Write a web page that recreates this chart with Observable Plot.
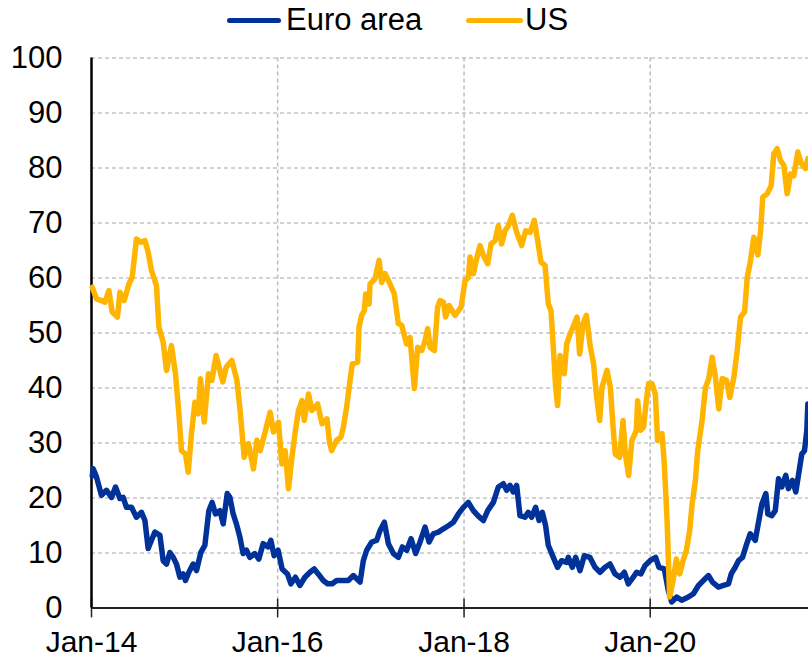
<!DOCTYPE html>
<html>
<head>
<meta charset="utf-8">
<script src="https://cdn.jsdelivr.net/npm/d3@7"></script>
<script src="https://cdn.jsdelivr.net/npm/@observablehq/plot@0.6"></script>
<style>
  html, body { margin: 0; padding: 0; background: #fff; }
  body { width: 808px; height: 659px; overflow: hidden; font-family: "Liberation Sans", Arial, sans-serif; }
  #legend { position: relative; height: 42px; width: 808px; }
  .sw { position: absolute; top: 18px; height: 5px; border-radius: 3px; }
  .lt { position: absolute; top: 3px; font-size: 31px; line-height: 34px; color: #000; white-space: nowrap; }
</style>
</head>
<body>
<div id="legend">
  <div class="sw" style="left:227px;width:54px;background:#003299"></div>
  <div class="lt" style="left:286px">Euro area</div>
  <div class="sw" style="left:466px;width:57px;background:#FFB400"></div>
  <div class="lt" style="left:525px">US</div>
</div>
<div id="chart"></div>
<script>
// Decimal-year time stamps and values
const euroTime = [2014.008,2014.018,2014.054,2014.107,2014.161,2014.215,2014.258,2014.305,2014.340,2014.376,2014.430,2014.483,2014.537,2014.574,2014.609,2014.644,2014.681,2014.735,2014.770,2014.806,2014.842,2014.878,2014.913,2014.950,2014.985,2015.010,2015.046,2015.092,2015.128,2015.175,2015.218,2015.261,2015.296,2015.332,2015.379,2015.415,2015.458,2015.487,2015.522,2015.557,2015.594,2015.629,2015.665,2015.701,2015.755,2015.798,2015.844,2015.898,2015.927,2015.962,2016.005,2016.048,2016.105,2016.142,2016.191,2016.238,2016.292,2016.346,2016.392,2016.435,2016.489,2016.535,2016.585,2016.632,2016.685,2016.757,2016.811,2016.883,2016.918,2016.954,2017.008,2017.061,2017.098,2017.144,2017.187,2017.241,2017.294,2017.337,2017.384,2017.431,2017.480,2017.527,2017.581,2017.624,2017.670,2017.724,2017.778,2017.835,2017.885,2017.939,2017.993,2018.046,2018.100,2018.154,2018.207,2018.254,2018.315,2018.368,2018.422,2018.458,2018.494,2018.529,2018.565,2018.601,2018.655,2018.690,2018.726,2018.769,2018.806,2018.841,2018.876,2018.905,2018.959,2019.005,2019.048,2019.102,2019.120,2019.163,2019.199,2019.246,2019.292,2019.353,2019.407,2019.461,2019.515,2019.568,2019.622,2019.676,2019.722,2019.765,2019.818,2019.854,2019.901,2019.944,2019.998,2020.058,2020.094,2020.151,2020.194,2020.230,2020.284,2020.337,2020.409,2020.463,2020.517,2020.570,2020.624,2020.667,2020.731,2020.785,2020.839,2020.868,2020.911,2020.946,2020.989,2021.035,2021.072,2021.126,2021.161,2021.197,2021.240,2021.261,2021.304,2021.341,2021.376,2021.411,2021.454,2021.483,2021.526,2021.562,2021.598,2021.626,2021.655,2021.680,2021.691];
const euroValues = [24.0,25.3,23.8,20.5,21.4,20.1,22.0,19.9,20.1,18.3,18.3,16.5,17.4,15.9,10.8,12.3,13.8,13.2,8.6,8.0,10.1,9.2,8.0,5.6,6.2,5.0,6.5,8.0,6.8,10.1,11.4,17.7,19.2,17.1,17.7,15.3,20.8,20.1,17.1,15.3,12.9,9.9,10.5,9.2,9.9,8.9,11.7,11.1,12.3,9.5,10.5,7.1,6.2,4.4,5.6,4.1,5.6,6.5,7.1,6.2,5.0,4.4,4.4,5.0,5.0,5.0,5.9,4.7,8.6,10.5,12.0,12.3,14.1,15.6,11.7,9.9,9.2,11.1,10.5,12.6,9.9,12.0,14.7,12.0,13.5,13.8,14.4,15.0,15.6,17.1,18.3,19.2,17.7,16.7,15.9,17.7,19.2,22.0,22.6,21.4,22.3,21.1,22.3,16.8,16.5,17.4,16.5,18.3,15.9,17.4,15.0,11.4,9.2,7.4,8.6,8.3,9.2,7.4,9.2,6.8,9.5,9.2,7.4,6.5,7.4,8.0,6.2,5.6,6.5,4.4,5.6,6.5,6.2,7.7,8.6,9.2,7.4,7.1,3.2,1.1,2.0,1.4,2.0,2.6,4.1,5.0,5.9,4.7,3.8,4.1,4.4,6.2,7.4,8.6,9.2,11.7,13.5,12.3,15.6,18.9,20.8,17.1,16.8,17.7,23.5,22.0,24.1,21.7,23.2,21.1,25.0,28.0,28.6,32.3,37.1];

const usTime = [2014.008,2014.054,2014.107,2014.144,2014.187,2014.222,2014.279,2014.305,2014.351,2014.402,2014.437,2014.483,2014.531,2014.574,2014.609,2014.644,2014.698,2014.724,2014.770,2014.806,2014.859,2014.902,2014.939,2014.967,2015.010,2015.039,2015.074,2015.111,2015.146,2015.171,2015.211,2015.257,2015.293,2015.339,2015.411,2015.447,2015.508,2015.562,2015.597,2015.640,2015.686,2015.740,2015.777,2015.812,2015.866,2015.919,2015.955,2016.009,2016.045,2016.081,2016.116,2016.153,2016.188,2016.223,2016.260,2016.285,2016.331,2016.367,2016.428,2016.475,2016.528,2016.556,2016.578,2016.632,2016.679,2016.704,2016.739,2016.776,2016.800,2016.857,2016.872,2016.900,2016.929,2016.943,2016.980,2016.990,2017.044,2017.087,2017.115,2017.151,2017.205,2017.251,2017.294,2017.330,2017.359,2017.384,2017.420,2017.466,2017.502,2017.545,2017.581,2017.609,2017.635,2017.681,2017.716,2017.742,2017.778,2017.802,2017.839,2017.903,2017.968,2018.011,2018.046,2018.064,2018.100,2018.135,2018.172,2018.207,2018.254,2018.290,2018.333,2018.368,2018.404,2018.440,2018.476,2018.519,2018.565,2018.619,2018.662,2018.709,2018.755,2018.791,2018.827,2018.870,2018.905,2018.934,2018.959,2018.984,2019.005,2019.031,2019.077,2019.102,2019.139,2019.171,2019.214,2019.242,2019.278,2019.314,2019.357,2019.392,2019.421,2019.457,2019.482,2019.536,2019.572,2019.601,2019.625,2019.671,2019.708,2019.733,2019.768,2019.804,2019.851,2019.865,2019.894,2019.929,2019.958,2019.983,2020.019,2020.055,2020.079,2020.127,2020.151,2020.181,2020.208,2020.245,2020.280,2020.316,2020.352,2020.388,2020.423,2020.449,2020.484,2020.509,2020.556,2020.592,2020.627,2020.664,2020.699,2020.735,2020.771,2020.817,2020.853,2020.896,2020.932,2020.968,2021.011,2021.040,2021.075,2021.111,2021.154,2021.183,2021.207,2021.254,2021.297,2021.325,2021.362,2021.397,2021.433,2021.469,2021.505,2021.540,2021.583,2021.620,2021.666,2021.691];
const usValues = [58.3,56.2,55.9,55.6,57.7,53.8,52.9,57.4,55.9,58.9,60.1,67.1,66.5,66.8,64.7,61.4,58.6,51.1,48.3,43.2,47.7,42.6,35.3,28.6,28.0,24.7,31.7,37.4,35.3,41.7,33.8,42.6,41.4,45.9,41.1,43.8,45.0,41.4,35.9,27.4,29.9,25.3,30.5,28.6,32.0,35.6,32.0,33.8,26.2,28.6,21.7,27.4,32.0,35.9,37.7,34.1,38.9,35.9,37.1,33.5,34.4,30.1,28.6,30.5,31.1,32.9,36.5,41.4,44.4,44.7,51.1,53.2,54.1,57.1,55.3,58.9,59.9,63.2,59.2,60.8,58.9,57.1,51.7,51.4,49.5,48.0,49.2,39.9,47.4,46.8,48.6,50.8,47.4,46.8,54.7,55.9,55.6,52.9,55.0,53.2,54.7,59.5,60.1,63.8,60.8,63.5,65.9,64.1,62.6,66.2,66.8,69.5,66.2,68.6,69.5,71.4,68.3,65.9,68.6,68.3,70.5,66.8,62.9,62.3,55.3,54.1,47.4,40.1,36.8,45.9,42.6,48.0,49.8,51.1,52.9,46.2,51.7,53.2,47.4,44.4,38.9,34.1,40.1,43.2,40.1,32.9,28.0,27.4,34.1,28.0,24.1,30.5,32.3,37.7,32.3,32.9,37.7,40.8,40.8,38.9,30.5,31.7,26.2,15.9,2.0,5.0,8.9,6.2,8.6,10.5,14.1,18.9,23.2,28.6,34.1,40.1,41.7,45.6,41.9,36.2,41.7,41.4,38.3,41.9,46.8,52.9,53.8,60.1,63.2,67.4,64.2,68.6,74.7,75.3,76.8,82.6,83.5,81.4,80.5,75.3,78.9,78.6,82.9,80.8,79.9,81.7];

const seriesNames = ["Euro area", "US"];
const seriesColors = ["#003299", "#FFB400"];
const yTicks = [0,10,20,30,40,50,60,70,80,90,100];
const xTickYears = [2014, 2016, 2018, 2020];
const xTickLabels = ["Jan-14", "Jan-16", "Jan-18", "Jan-20"];
const xEnd = 2021.698;

function toDate(t) {
  const y = Math.floor(t);
  const s = Date.UTC(y, 0, 1), e = Date.UTC(y + 1, 0, 1);
  return new Date(s + (t - y) * (e - s));
}

const rows = [];
euroTime.forEach((t, i) => rows.push({date: toDate(t), value: euroValues[i], series: seriesNames[0]}));
usTime.forEach((t, i) => rows.push({date: toDate(t), value: usValues[i], series: seriesNames[1]}));
const xTickDates = xTickYears.map(y => toDate(y));

const chart = Plot.plot({
  width: 808,
  height: 617,
  marginLeft: 91,
  marginRight: 0,
  marginTop: 15.5,
  marginBottom: 51.5,
  style: {fontFamily: "'Liberation Sans', Arial, sans-serif", fontSize: "31px", background: "#fff", color: "#000", overflow: "visible"},
  x: {type: "utc", domain: [toDate(2014), toDate(xEnd)]},
  y: {domain: [0, 100]},
  color: {domain: seriesNames, range: seriesColors},
  marks: [
    Plot.gridY(yTicks.filter(d => d > 0), {stroke: "#a6a6a6", strokeOpacity: 1, strokeWidth: 1, strokeDasharray: "4,3"}),
    Plot.gridX(xTickDates.slice(1), {stroke: "#bdbdbd", strokeOpacity: 1, strokeWidth: 1.5, strokeDasharray: "4,3"}),
    Plot.axisY(yTicks, {tickSize: 0, tickPadding: 29, fontSize: 31, label: null}),
    Plot.axisX(xTickDates, {tickSize: 0, tickPadding: 23, fontSize: 30, label: null, tickFormat: (d, i) => xTickLabels[i]}),
    Plot.ruleX(xTickDates, {y1: -1.8, y2: 1.6, stroke: "#222", strokeWidth: 1.5}),
    Plot.ruleY([0], {stroke: "#222", strokeWidth: 2}),
    Plot.ruleX([toDate(2014)], {stroke: "#000", strokeWidth: 2.5}),
    Plot.line(rows.filter(d => d.series === seriesNames[0]), {x: "date", y: "value", stroke: "series", strokeWidth: 5.5, strokeLinejoin: "round", strokeLinecap: "round"}),
    Plot.line(rows.filter(d => d.series === seriesNames[1]), {x: "date", y: "value", stroke: "series", strokeWidth: 5.5, strokeLinejoin: "round", strokeLinecap: "round"})
  ]
});
document.getElementById("chart").appendChild(chart);
</script>
</body>
</html>
